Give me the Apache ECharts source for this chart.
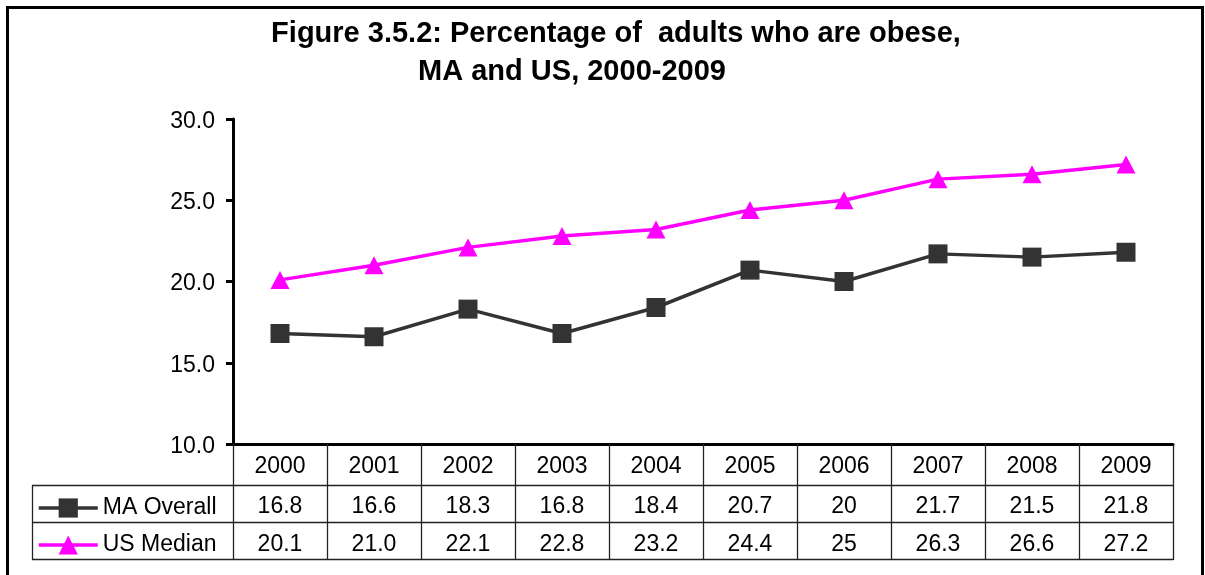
<!DOCTYPE html>
<html>
<head>
<meta charset="utf-8">
<title>Percentage of adults who are obese, MA and US, 2000-2009</title>
<script src="https://cdn.jsdelivr.net/npm/echarts@6/dist/echarts.min.js"></script>
<style>
  html, body { margin: 0; padding: 0; background: #ffffff; }
  #chart { width: 1205px; height: 575px; }
</style>
</head>
<body>
<div id="chart"></div>
<script>
// Survey years (category axis and table header)
const years = ['2000', '2001', '2002', '2003', '2004', '2005', '2006', '2007', '2008', '2009'];

// Values as printed in the data table; the plotted points use the same entries
const maOverall = ['16.8', '16.6', '18.3', '16.8', '18.4', '20.7', '20', '21.7', '21.5', '21.8'];
const usMedian  = ['20.1', '21.0', '22.1', '22.8', '23.2', '24.4', '25', '26.3', '26.6', '27.2'];

// Value axis ticks
const yTicks = [10, 15, 20, 25, 30];

const seriesNames = ['MA Overall', 'US Median'];
const titleLines = ['Figure 3.5.2: Percentage of  adults who are obese,', 'MA and US, 2000-2009'];

const FONT = '"Liberation Sans", Arial, sans-serif';
const GRID = { left: 233, right: 32, top: 119, bottom: 131 };
const TABLE_LEFT = 32;
const ROW_LINES = [485, 522, 559];

const chart = echarts.init(document.getElementById('chart'), null, { renderer: 'canvas' });

const W = 1205;
const plotRight = W - GRID.right;

const graphics = [
  // outer frame
  { type: 'rect', shape: { x: 7.5, y: 7.5, width: 1195, height: 620 },
    style: { fill: 'none', stroke: '#000', lineWidth: 3 }, z: 10, silent: true },
  // two-line heading
  { type: 'text', x: 616, y: 34,
    style: { text: titleLines[0], font: 'bold 29px ' + FONT, fill: '#000',
             textAlign: 'center', textVerticalAlign: 'middle' } },
  { type: 'text', x: 572, y: 72,
    style: { text: titleLines[1], font: 'bold 29px ' + FONT, fill: '#000',
             textAlign: 'center', textVerticalAlign: 'middle' } },
  // data table: left border of the series-name column
  { type: 'line', shape: { x1: TABLE_LEFT + 0.5, y1: ROW_LINES[0], x2: TABLE_LEFT + 0.5, y2: ROW_LINES[2] + 1 },
    style: { stroke: '#222', lineWidth: 1.3 }, silent: true }
];
// data table: row separators
ROW_LINES.forEach(function (y) {
  graphics.push({ type: 'line', shape: { x1: TABLE_LEFT, y1: y + 0.5, x2: plotRight, y2: y + 0.5 },
    style: { stroke: '#222', lineWidth: 1.3 }, silent: true });
});

const option = {
  backgroundColor: '#ffffff',
  animation: false,
  textStyle: { fontFamily: FONT },
  grid: { left: GRID.left, right: GRID.right, top: GRID.top, bottom: GRID.bottom, containLabel: false },
  legend: {
    data: seriesNames,
    orient: 'vertical',
    left: 37,
    top: 496,
    padding: 0,
    itemWidth: 59,
    itemHeight: 24,
    itemGap: 13,
    itemTextGap: 6,
    lineStyle: { width: 3.5 },
    textStyle: { fontSize: 23, color: '#000', fontFamily: FONT, lineHeight: 24 },
    selectedMode: false
  },
  xAxis: {
    type: 'category',
    data: years,
    boundaryGap: true,
    axisLine: { onZero: false, lineStyle: { color: '#000', width: 3 } },
    axisTick: { show: true, length: ROW_LINES[2] + 1 - (575 - GRID.bottom), lineStyle: { color: '#222', width: 1.3 } },
    axisLabel: {
      margin: 2,
      interval: 0,
      formatter: function (v, i) {
        return '{h|' + v + '}\n{v|' + maOverall[i] + '}\n{v|' + usMedian[i] + '}';
      },
      rich: {
        h: { fontSize: 23, color: '#000', lineHeight: 42, fontFamily: FONT },
        v: { fontSize: 23, color: '#000', lineHeight: 38, fontFamily: FONT }
      }
    },
    splitLine: { show: false }
  },
  yAxis: {
    type: 'value',
    min: yTicks[0],
    max: yTicks[yTicks.length - 1],
    interval: yTicks[1] - yTicks[0],
    axisLine: { show: true, lineStyle: { color: '#000', width: 3 } },
    axisTick: { show: true, length: 7, lineStyle: { color: '#000', width: 3 } },
    axisLabel: {
      margin: 18,
      formatter: function (v) { return '{t|' + v.toFixed(1) + '}'; },
      rich: {
        t: { fontSize: 23, color: '#000', fontFamily: FONT, lineHeight: 23, padding: [5, 0, 0, 0] }
      }
    },
    splitLine: { show: false }
  },
  series: [
    {
      name: seriesNames[0],
      type: 'line',
      data: maOverall.map(Number),
      symbol: 'rect',
      symbolSize: 19,
      color: '#333333',
      lineStyle: { color: '#333333', width: 3.5 },
      itemStyle: { color: '#333333' },
      z: 3
    },
    {
      name: seriesNames[1],
      type: 'line',
      data: usMedian.map(Number),
      symbol: 'triangle',
      symbolSize: [19, 18],
      color: '#ff00ff',
      lineStyle: { color: '#ff00ff', width: 3.5 },
      itemStyle: { color: '#ff00ff' },
      z: 3
    }
  ],
  graphic: graphics
};

chart.setOption(option);
</script>
</body>
</html>
